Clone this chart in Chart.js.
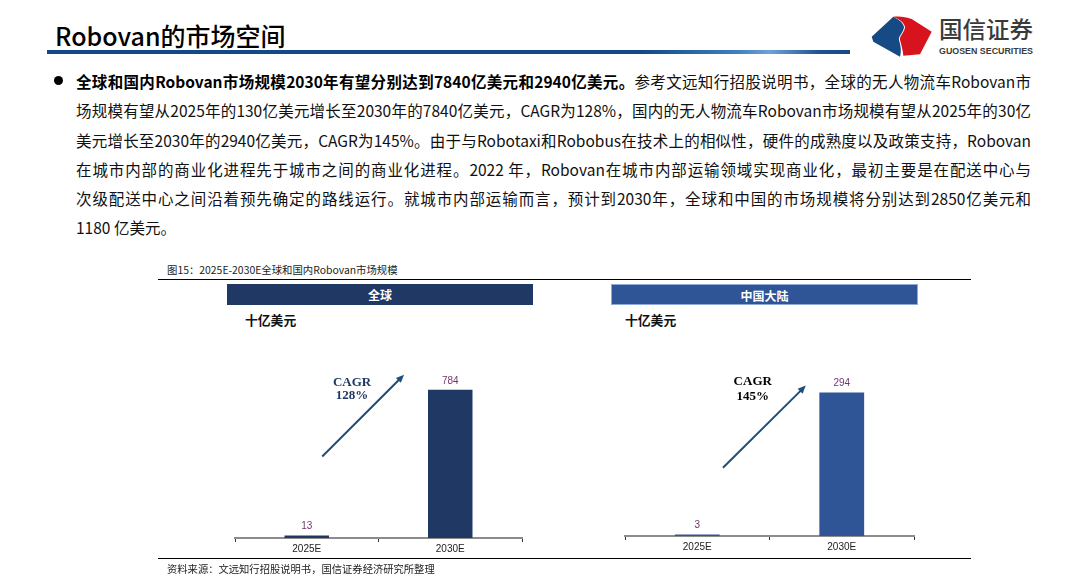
<!DOCTYPE html>
<html>
<head>
<meta charset="utf-8">
<script src="https://cdn.jsdelivr.net/npm/chart.js@4.4.1/dist/chart.umd.min.js"></script>
<style>
  html, body { margin: 0; padding: 0; background: #fff; }
  body { width: 1069px; height: 580px; position: relative; overflow: hidden; font-family: "Noto Sans CJK SC", "Noto Sans", sans-serif; color: #000; }
  .abs { position: absolute; }
  #title { left: 55px; top: 17px; font-size: 25px; font-weight: 500; line-height: 36px; color: #000; white-space: nowrap; }
  #titleLine { left: 47px; top: 50px; width: 803px; height: 4px;
    background: linear-gradient(to right, #114a84 0%, #114a84 74%, #3f7fc0 86%, #6fa3d6 90%, #1c5590 96%, #114a84 100%); }
  #bullet { left: 54px; top: 76px; width: 9px; height: 9px; border-radius: 50%; background: #000; }
  .line { position: absolute; left: 76px; width: 955px; font-size: 15.5px; line-height: 20px; white-space: nowrap;
    text-align: justify; text-align-last: justify; color: #111; }
  .line b { font-weight: 700; color: #000; }
  #caption { left: 167px; top: 262px; font-size: 10.4px; color: #222; white-space: nowrap; }
  #source { left: 167px; top: 561px; font-size: 10.3px; color: #222; white-space: nowrap; }
  .rule { position: absolute; left: 158px; width: 813px; height: 1.5px; background: #000; }
  .head { position: absolute; top: 284px; height: 21px; color: #fff; font-size: 12px; font-weight: 700;
    text-align: center; line-height: 21px; box-sizing: border-box; }
  #headGlobal { left: 227px; width: 306px; background: #203864; }
  #headChina { left: 611px; width: 307px; background: #2f5597; border: 1px solid #8eaad8; }
  .unit { position: absolute; top: 310px; font-size: 12.8px; font-weight: 700; color: #111; white-space: nowrap; }
  canvas { position: absolute; }
</style>
</head>
<body>
<div id="title" class="abs">Robovan的市场空间</div>
<div id="titleLine" class="abs"></div>

<svg class="abs" style="left:860px;top:10px" width="180" height="52" viewBox="0 0 180 52">
  <path d="M33.3,6.7 L11.7,26.7 L13.3,31.7 L40,46.7 C42,40 40,34 39,30 C38,26 44,22 44,17 C43,12 38,9 33.3,6.7 Z" fill="#154a85"/>
  <path d="M33.3,6.7 C40,6 46,7 51.7,9 L71.7,21.7 L60,44.3 L43.3,45.7 C43,40 41,34 40,30 C39,26 45,22 45,17 C44,12 39,9 33.3,6.7 Z" fill="#d7141e"/>
  <text x="79" y="28" font-family="Noto Sans CJK SC" font-size="23" font-weight="500" fill="#3a3a3a" textLength="94" lengthAdjust="spacingAndGlyphs">国信证券</text>
  <text x="79" y="44" font-family="Liberation Sans Narrow, Liberation Sans, Arial" font-size="9.5" font-weight="700" fill="#3a3a3a" textLength="94" lengthAdjust="spacingAndGlyphs">GUOSEN SECURITIES</text>
</svg>

<div id="bullet" class="abs"></div>
<div class="line" style="top:71px"><b>全球和国内Robovan市场规模2030年有望分别达到7840亿美元和2940亿美元。</b>参考文远知行招股说明书，全球的无人物流车Robovan市</div>
<div class="line" style="top:100px">场规模有望从2025年的130亿美元增长至2030年的7840亿美元，CAGR为128%，国内的无人物流车Robovan市场规模有望从2025年的30亿</div>
<div class="line" style="top:129.5px">美元增长至2030年的2940亿美元，CAGR为145%。由于与Robotaxi和Robobus在技术上的相似性，硬件的成熟度以及政策支持，Robovan</div>
<div class="line" style="top:158.5px">在城市内部的商业化进程先于城市之间的商业化进程。2022 年，Robovan在城市内部运输领域实现商业化，最初主要是在配送中心与</div>
<div class="line" style="top:187.5px">次级配送中心之间沿着预先确定的路线运行。就城市内部运输而言，预计到2030年，全球和中国的市场规模将分别达到2850亿美元和</div>
<div class="line" style="top:216.5px;text-align-last:left">1180 亿美元。</div>

<div id="caption" class="abs">图15：2025E-2030E全球和国内Robovan市场规模</div>
<div class="rule" style="top:278.5px"></div>
<div id="headGlobal" class="head">全球</div>
<div id="headChina" class="head">中国大陆</div>
<div class="unit" style="left:245px">十亿美元</div>
<div class="unit" style="left:625px">十亿美元</div>

<canvas id="globalChart" width="306" height="230" style="left:227px;top:330px"></canvas>
<canvas id="chinaChart" width="307" height="228" style="left:611px;top:330px"></canvas>

<div class="rule" style="top:557.5px"></div>
<div id="source" class="abs">资料来源：文远知行招股说明书，国信证券经济研究所整理</div>

<script>
// Données
const categories = ['2025E', '2030E'];
const globalValues = [13, 784];
const chinaValues = [3, 294];
const globalCagr = ['CAGR', '128%'];
const chinaCagr = ['CAGR', '145%'];

Chart.defaults.font.family = '"Liberation Sans", Arial, sans-serif';

// Étiquettes de valeur + flèche CAGR
const annotatePlugin = {
    id: 'annotate',
    afterDatasetsDraw(chart, args, opts) {
        const ctx = chart.ctx;
        const area = chart.chartArea;
        const meta = chart.getDatasetMeta(0);
        const values = chart.data.datasets[0].data;
        ctx.save();

        ctx.font = '10px "Liberation Sans", Arial';
        ctx.fillStyle = '#74366f';
        ctx.textAlign = 'center';
        ctx.textBaseline = 'bottom';
        meta.data.forEach((bar, i) => {
            ctx.fillText(String(values[i]), bar.x, bar.y - 4);
        });

        const px = f => area.left + f * (area.right - area.left);
        const py = f => area.top + f * (area.bottom - area.top);
        const [x1, y1, x2, y2] = [px(opts.arrow[0]), py(opts.arrow[1]), px(opts.arrow[2]), py(opts.arrow[3])];
        ctx.strokeStyle = '#1f4e79';
        ctx.fillStyle = '#1f4e79';
        ctx.lineWidth = 2;
        const ang = Math.atan2(y2 - y1, x2 - x1);
        ctx.beginPath();
        ctx.moveTo(x1, y1);
        ctx.lineTo(x2 - 6 * Math.cos(ang), y2 - 6 * Math.sin(ang));
        ctx.stroke();
        ctx.beginPath();
        ctx.moveTo(x2, y2);
        ctx.lineTo(x2 - 8 * Math.cos(ang) + 3.5 * Math.sin(ang), y2 - 8 * Math.sin(ang) - 3.5 * Math.cos(ang));
        ctx.lineTo(x2 - 8 * Math.cos(ang) - 3.5 * Math.sin(ang), y2 - 8 * Math.sin(ang) + 3.5 * Math.cos(ang));
        ctx.closePath();
        ctx.fill();

        ctx.font = 'bold 13px "Liberation Serif", "Times New Roman", serif';
        ctx.fillStyle = opts.textColor;
        ctx.textBaseline = 'middle';
        ctx.fillText(opts.lines[0], px(opts.text[0]), py(opts.text[1]));
        ctx.fillText(opts.lines[1], px(opts.text[0]), py(opts.text[2]));
        ctx.restore();
    }
};

function makeChart(id, values, color, yMax, pad, annot) {
    new Chart(document.getElementById(id), {
        type: 'bar',
        data: {
            labels: categories,
            datasets: [{
                data: values,
                backgroundColor: color,
                barPercentage: 0.31,
                categoryPercentage: 1
            }]
        },
        options: {
            responsive: false,
            animation: false,
            layout: { padding: pad },
            scales: {
                x: {
                    grid: { display: true, drawOnChartArea: false, drawTicks: true, tickLength: 4, color: '#333', lineWidth: 1 },
                    border: { display: true, color: '#8c8c8c', width: 2 },
                    ticks: { font: { size: 10 }, color: '#222', padding: 1 }
                },
                y: { display: false, min: 0, max: yMax }
            },
            plugins: {
                legend: { display: false },
                tooltip: { enabled: false },
                annotate: annot
            }
        },
        plugins: [annotatePlugin]
    });
}

makeChart('globalChart', globalValues, '#203864', 1100,
    { left: 8, right: 11, top: 0, bottom: 4 },
    { arrow: [0.304, 0.608, 0.589, 0.215], text: [0.408, 0.252, 0.317], lines: globalCagr, textColor: '#1f3864' });

makeChart('chinaChart', chinaValues, '#2f5597', 422,
    { left: 14, right: 4, top: 0, bottom: 4 },
    { arrow: [0.339, 0.669, 0.6255, 0.270], text: [0.442, 0.251, 0.322], lines: chinaCagr, textColor: '#000' });
</script>
</body>
</html>
